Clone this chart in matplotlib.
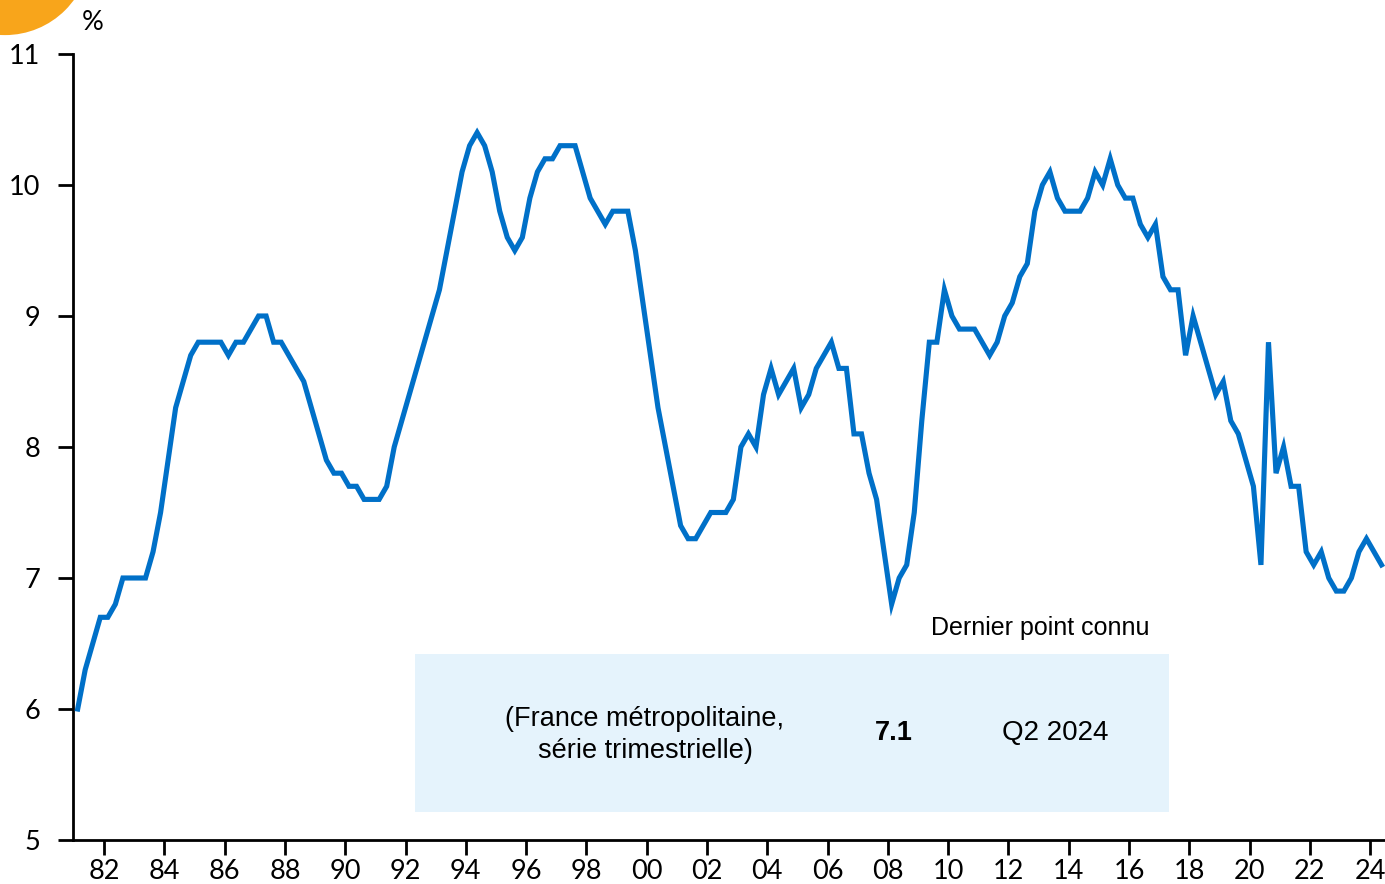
import matplotlib.pyplot as plt
import matplotlib.patches as patches
import numpy as np
import pandas as pd

dpi = 100

# taux de chomage BIT, France metropolitaine (%), serie trimestrielle 1981T1 -> 2024T2
chomage = [
    6.0, 6.3, 6.5, 6.7, 6.7, 6.8, 7.0, 7.0, 7.0, 7.0,
    7.2, 7.5, 7.9, 8.3, 8.5, 8.7, 8.8, 8.8, 8.8, 8.8,
    8.7, 8.8, 8.8, 8.9, 9.0, 9.0, 8.8, 8.8, 8.7, 8.6,
    8.5, 8.3, 8.1, 7.9, 7.8, 7.8, 7.7, 7.7, 7.6, 7.6,
    7.6, 7.7, 8.0, 8.2, 8.4, 8.6, 8.8, 9.0, 9.2, 9.5,
    9.8, 10.1, 10.3, 10.4, 10.3, 10.1, 9.8, 9.6, 9.5, 9.6,
    9.9, 10.1, 10.2, 10.2, 10.3, 10.3, 10.3, 10.1, 9.9, 9.8,
    9.7, 9.8, 9.8, 9.8, 9.5, 9.1, 8.7, 8.3, 8.0, 7.7,
    7.4, 7.3, 7.3, 7.4, 7.5, 7.5, 7.5, 7.6, 8.0, 8.1,
    8.0, 8.4, 8.6, 8.4, 8.5, 8.6, 8.3, 8.4, 8.6, 8.7,
    8.8, 8.6, 8.6, 8.1, 8.1, 7.8, 7.6, 7.2, 6.8, 7.0,
    7.1, 7.5, 8.2, 8.8, 8.8, 9.2, 9.0, 8.9, 8.9, 8.9,
    8.8, 8.7, 8.8, 9.0, 9.1, 9.3, 9.4, 9.8, 10.0, 10.1,
    9.9, 9.8, 9.8, 9.8, 9.9, 10.1, 10.0, 10.2, 10.0, 9.9,
    9.9, 9.7, 9.6, 9.7, 9.3, 9.2, 9.2, 8.7, 9.0, 8.8,
    8.6, 8.4, 8.5, 8.2, 8.1, 7.9, 7.7, 7.1, 8.8, 7.8,
    8.0, 7.7, 7.7, 7.2, 7.1, 7.2, 7.0, 6.9, 6.9, 7.0,
    7.2, 7.3, 7.2, 7.1,
]
quarters = pd.period_range('1981Q1', '2024Q2', freq='Q')
year_ticks = list(range(1982, 2025, 2))
y_ticks = [5, 6, 7, 8, 9, 10, 11]
box_label = '(France métropolitaine,\nsérie trimestrielle)'
box_title = 'Dernier point connu'
last_value = '7.1'
last_period = 'Q2 2024'

blue = '#0070C8'
tick_font = 'Lato'
box_font = ['Liberation Sans', 'DejaVu Sans']

# mid-quarter position in decimal years
t = quarters.year + (quarters.quarter - 1) / 4 + 0.125

fig = plt.figure(figsize=(13.85, 8.84), dpi=dpi)
ax = fig.add_axes([73 / 1385, 44 / 884, 1312 / 1385, 786 / 884])

ax.plot(t, chomage, color=blue, lw=3.7, solid_joinstyle='miter', clip_on=False, zorder=3)

ax.set_xlim(1980.97, 2024.49)
ax.set_ylim(5, 11)
ax.set_xticks(year_ticks)
ax.set_xticklabels([f'{y % 100:02d}' for y in year_ticks], fontfamily=tick_font, fontsize=19.5)
ax.set_yticks(y_ticks)
ax.set_yticklabels([str(v) for v in y_ticks], fontfamily=tick_font, fontsize=19.5)
ax.tick_params(axis='x', direction='out', length=11, width=2, pad=2.5)
ax.tick_params(axis='y', direction='out', length=11, width=2, pad=12.5)
for side in ['top', 'right']:
    ax.spines[side].set_visible(False)
for side in ['left', 'bottom']:
    ax.spines[side].set_linewidth(2)

fig.text(93 / 1385, 1 - 22 / 884, '%', fontfamily=tick_font, fontsize=19.5, ha='center', va='center')

# encadre "dernier point connu"
ax.add_patch(patches.Rectangle((0.2607, 0.0356), 0.5747, 0.201, transform=ax.transAxes,
                               facecolor='#E5F3FC', edgecolor='none', zorder=1))
ax.text(0.7372, 0.2697, box_title, transform=ax.transAxes, ha='center', va='center',
        family=box_font, fontsize=18)
ax.text(0.436, 0.1336, box_label, transform=ax.transAxes, ha='center', va='center',
        family=box_font, fontsize=19.5, linespacing=1.33)
ax.text(0.6258, 0.136, last_value, transform=ax.transAxes, ha='center', va='center',
        family=box_font, fontsize=19.5, fontweight='bold')
ax.text(0.7485, 0.136, last_period, transform=ax.transAxes, ha='center', va='center',
        family=box_font, fontsize=20)

# pastille orange en haut a gauche
fig.patches.append(patches.Circle((0.05, 9.34), 0.851, transform=fig.dpi_scale_trans,
                                  facecolor='#F8A51B', edgecolor='none'))

plt.savefig('out.png', dpi=dpi)
